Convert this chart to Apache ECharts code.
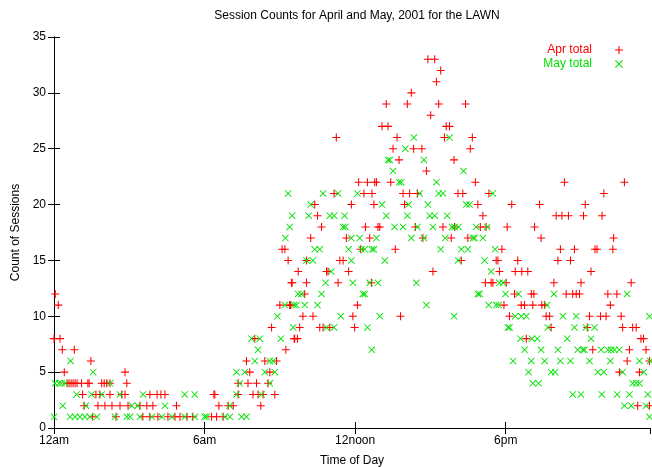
<!DOCTYPE html>
<html>
<head>
<meta charset="utf-8">
<script src="https://cdn.jsdelivr.net/npm/echarts@6/dist/echarts.min.js"></script>
<style>
  html, body { margin: 0; padding: 0; background: #fff; }
  #chart { width: 652px; height: 467px; }
</style>
</head>
<body>
<div id="chart"></div>
<script>
// x = hour of day, y = number of sessions
const aprPoints = [
  [0.05,12],[0.17,11],[0.0,8],[0.24,8],[0.33,7],[0.81,7],[1.47,6],[0.41,5],[2.83,5],[2.9,4],
  [0.52,4],[0.6,4],[0.68,4],[0.76,4],[0.84,4],[0.92,4],[1.1,4],[1.35,4],[1.4,4],[1.9,4],[2.0,4],[2.1,4],[2.23,4],
  [1.14,3],[1.67,3],[1.83,3],[2.23,3],[2.7,3],
  [1.2,2],[1.75,2],[2.03,2],[2.31,2],[2.63,2],[2.95,2],
  [1.54,1],[2.47,1],
  [2.83,3],[3.82,3],[4.11,3],[4.26,3],[4.42,3],[6.37,3],
  [3.42,2],[3.7,2],[3.94,2],[4.88,2],
  [3.54,1],[3.82,1],[4.14,1],[4.54,1],[4.82,1],[5.02,1],[5.3,1],[5.53,1],
  [6.28,1],[6.48,1],[6.74,1],
  [6.57,2],[6.94,2],[7.14,2],[8.24,2],
  [6.41,3],[7.34,3],[7.93,3],[8.13,3],[8.33,3],[8.8,3],
  [7.34,4],[7.73,4],[8.07,4],[8.53,4],
  [7.8,5],[8.6,5],[7.67,6],[8.4,6],[8.87,6],
  [9.24,7],[8.0,8],[9.57,8],[8.67,9],[9.0,11],[9.43,11],[9.49,13],[9.33,15],[9.09,16],
  [11.25,26],[12.14,22],[12.49,22],[12.78,22],[11.16,21],[12.35,21],[12.67,21],
  [10.39,20],[11.85,20],[12.75,20],[10.5,19],[10.66,18],[12.41,18],
  [10.23,17],[11.65,17],[12.58,17],[9.2,16],[12.22,16],
  [10.06,15],[11.39,15],[11.52,15],
  [9.73,14],[10.86,14],[10.92,14],[11.74,14],
  [9.46,13],[10.06,13],[11.32,13],[12.65,13],
  [9.99,12],[9.39,11],[12.09,11],
  [9.92,10],[10.32,10],[11.91,10],
  [9.79,9],[10.59,9],[10.72,9],[10.99,9],[11.98,9],
  [9.59,8],[9.7,8],
  [14.9,33],[15.17,33],[15.41,32],[15.24,31],[14.24,30],
  [13.24,29],[14.08,29],[15.33,29],[16.4,29],[15.01,28],
  [13.07,27],[13.31,27],[15.63,27],[15.76,27],
  [13.67,26],[15.56,26],[13.51,25],[14.33,25],[14.66,25],
  [13.75,24],[15.94,24],[14.84,23],[12.85,22],[13.42,22],
  [13.91,21],[14.17,21],[14.48,21],[13.97,20],
  [12.91,18],[12.98,18],[14.4,18],[15.5,18],
  [14.7,17],[15.83,17],[13.6,16],[15.1,14],[13.81,10],
  [16.67,26],[16.59,25],[16.79,22],[16.1,21],[16.29,21],[17.33,21],
  [16.89,20],[18.24,20],[17.09,19],
  [15.96,18],[16.99,18],[17.22,18],[18.06,18],[19.15,18],
  [16.49,17],[17.85,16],
  [16.23,15],[17.62,15],[17.69,15],[18.48,15],
  [17.75,14],[18.38,14],[18.64,14],[18.88,14],
  [17.19,13],[17.42,13],[17.49,13],[18.02,13],
  [18.35,12],[19.02,12],
  [17.93,11],[18.62,11],[18.75,11],[19.08,11],
  [18.15,10],[18.82,8],
  [20.34,22],[22.73,22],[21.91,21],[19.35,20],[21.17,20],
  [20.01,19],[20.24,19],[20.5,19],[21.1,19],[21.84,19],
  [19.41,17],[22.3,17],
  [20.18,16],[20.74,16],[21.56,16],[21.64,16],[22.27,16],
  [20.08,15],[20.58,15],[21.4,14],
  [19.92,13],[21.0,13],[23.0,13],
  [19.12,12],[20.41,12],[20.67,12],[20.81,12],[20.94,12],[22.07,12],[22.43,12],
  [19.44,11],[19.55,11],[22.17,11],
  [19.61,10],[19.75,10],[21.34,10],[21.78,10],[22.0,10],[22.6,10],
  [19.81,9],[21.25,9],[22.66,9],[23.06,9],[23.2,9],
  [23.39,8],[23.49,8],
  [21.47,7],[22.93,7],[23.59,7],
  [22.84,6],[23.73,6],[22.53,5],[23.33,5],[23.26,2],[23.73,2]
];

const mayPoints = [
  [0.04,4],[0.2,4],[0.3,4],[0.45,4],[2.23,4],[0.66,6],[1.56,5],
  [0.9,3],[1.5,3],[1.9,3],[2.63,3],[0.35,2],[1.27,2],
  [0.0,1],[0.64,1],[0.84,1],[1.03,1],[1.23,1],[1.43,1],[1.71,1],[2.43,1],[2.9,1],
  [3.55,3],[5.21,3],[5.61,3],[3.1,2],[3.34,2],[4.42,2],
  [3.03,1],[3.42,1],[3.9,1],[4.3,1],[4.7,1],[5.21,1],[5.61,1],[6.0,1],
  [6.08,1],[6.81,1],[7.01,1],[7.47,1],[7.67,1],[7.0,2],
  [7.27,3],[8.27,3],[7.4,4],[8.6,4],
  [7.27,5],[7.6,5],[8.4,5],[8.8,5],
  [8.0,6],[8.6,6],[8.73,6],[8.13,7],
  [7.87,8],[8.2,8],[9.04,8],[9.53,9],[8.9,10],[9.2,11],[9.57,11],[9.22,17],
  [9.33,21],[10.72,21],[11.32,21],[12.09,21],[10.23,20],
  [9.49,19],[10.15,19],[10.99,19],[11.16,19],[11.58,19],
  [9.39,18],[11.52,18],[11.61,18],
  [11.85,17],[12.18,17],
  [10.39,16],[10.59,16],[11.74,16],[12.25,16],[12.38,16],[12.67,16],
  [10.06,15],[10.32,15],[11.85,15],[11.05,14],
  [10.82,13],[11.91,13],[12.58,13],
  [9.73,12],[9.86,12],[10.66,12],[12.31,12],
  [9.66,11],[9.99,11],[10.5,11],[11.43,10],
  [10.86,9],[11.16,9],[12.49,9],
  [14.34,26],[15.76,26],[14.0,25],[13.31,24],[13.38,24],[14.74,24],[13.51,23],
  [13.75,22],[13.84,22],[15.24,22],[14.57,21],[15.33,21],[15.5,21],
  [13.07,20],[14.13,20],[14.9,20],
  [13.24,19],[14.08,19],[14.97,19],[15.17,19],[15.67,19],
  [13.57,18],[13.91,18],[14.48,18],[15.1,18],[15.86,18],
  [12.85,17],[14.24,17],[14.74,17],[15.59,17],
  [12.75,16],[15.41,16],[13.18,15],[12.91,13],[14.44,13],[12.38,12],[14.84,11],
  [12.98,10],[15.94,10],[12.66,7],
  [16.32,23],[17.49,21],[16.43,20],[16.56,20],
  [15.96,18],[16.12,18],[16.82,18],[17.26,18],
  [16.69,17],[16.76,17],[17.09,17],
  [16.23,16],[16.49,16],[17.58,16],[16.1,15],[17.16,15],[17.42,14],[17.75,13],[17.89,13],
  [16.89,12],[16.96,12],[17.99,12],[18.51,12],
  [17.32,11],[17.62,11],[17.72,11],
  [18.38,10],[18.62,10],[18.82,10],[18.09,9],[18.15,9],
  [18.59,8],[19.04,8],[18.75,7],[18.29,6],[19.02,6],[18.91,5],[19.08,4],
  [19.92,12],[22.84,12],[19.65,11],[20.28,10],[20.81,10],[23.73,10],
  [19.68,9],[20.74,9],[21.2,9],[21.54,9],
  [19.26,8],[20.45,8],[21.4,8],
  [19.41,7],[20.08,7],[20.87,7],[21.07,7],[21.14,7],[21.8,7],[22.07,7],[22.2,7],[22.33,7],[22.53,7],
  [19.55,6],[20.18,6],[20.58,6],[21.34,6],[22.17,6],[23.33,6],[23.75,6],
  [19.81,5],[19.97,5],[21.67,5],[21.91,5],[22.66,5],[23.5,5],
  [19.31,4],[23.06,4],[23.2,4],[23.33,4],
  [20.67,3],[21.0,3],[21.83,3],[22.44,3],[22.93,3],[23.66,3],
  [22.73,2],[23.0,2],[23.59,2],[23.73,1]
];

const hourTicks = [0, 6, 12, 18];
const hourLabels = ['12am', '6am', '12noon', '6pm'];

const FONT = '"Liberation Sans", Arial, Helvetica, sans-serif';
const RED = '#ff0000';
const GREEN = '#00e000';
const plusIcon = 'path://M0,4.35H10V5.65H0Z M4.35,0H5.65V10H4.35Z';
const crossIcon = 'path://M0,0.9L0.9,0L10,9.1L9.1,10Z M9.1,0L10,0.9L0.9,10L0,9.1Z';

const chart = echarts.init(document.getElementById('chart'));

const mirrorAxis = {
  axisLine: { show: true, lineStyle: { color: '#000', width: 1 } },
  axisTick: { show: true, inside: true, length: 6, lineStyle: { color: '#000' } },
  axisLabel: { show: false },
  splitLine: { show: false }
};

chart.setOption({
  animation: false,
  backgroundColor: '#fff',
  textStyle: { fontFamily: FONT },
  title: {
    text: 'Session Counts for April and May, 2001 for the LAWN',
    left: 352, top: 5, textAlign: 'center',
    textStyle: { fontSize: 12, fontWeight: 'normal', color: '#000', fontFamily: FONT }
  },
  legend: {
    orient: 'vertical',
    right: 24, top: 38,
    align: 'right',
    itemWidth: 44, itemHeight: 8, itemGap: 0,
    symbolKeepAspect: true,
    textStyle: { fontSize: 12, lineHeight: 14, fontFamily: FONT },
    data: [
      { name: 'Apr total', icon: plusIcon, textStyle: { color: RED } },
      { name: 'May total', icon: crossIcon, textStyle: { color: GREEN } }
    ]
  },
  grid: { left: 54, right: 2, top: 37, bottom: 39, outerBoundsMode: 'none' },
  xAxis: [
    {
      type: 'value', min: 0, max: 23.75, interval: 6,
      name: 'Time of Day', nameLocation: 'middle', nameGap: 27,
      nameTextStyle: { fontSize: 12, color: '#000', fontFamily: FONT },
      axisLine: { show: true, lineStyle: { color: '#000', width: 1 } },
      axisTick: { show: true, inside: true, length: 6, lineStyle: { color: '#000' } },
      axisLabel: {
        color: '#000', fontSize: 12, margin: 7, showMaxLabel: false,
        formatter: v => {
          const i = hourTicks.indexOf(v);
          return i >= 0 ? hourLabels[i] : '';
        }
      },
      splitLine: { show: false }
    },
    Object.assign({ type: 'value', min: 0, max: 23.75, interval: 6, position: 'top' }, mirrorAxis)
  ],
  yAxis: [
    {
      type: 'value', min: 0, max: 35, interval: 5,
      name: 'Count of Sessions', nameLocation: 'middle', nameGap: 31,
      nameTextStyle: { fontSize: 12, color: '#000', fontFamily: FONT },
      axisLine: { show: true, lineStyle: { color: '#000', width: 1 } },
      axisTick: { show: true, inside: true, length: 6, lineStyle: { color: '#000' } },
      axisLabel: { color: '#000', fontSize: 12, margin: 8 },
      splitLine: { show: false }
    },
    Object.assign({ type: 'value', min: 0, max: 35, interval: 5, position: 'right' }, mirrorAxis)
  ],
  series: [
    {
      name: 'Apr total', type: 'scatter', clip: false,
      symbol: plusIcon, symbolSize: 8,
      itemStyle: { color: RED, opacity: 1 },
      data: aprPoints
    },
    {
      name: 'May total', type: 'scatter', clip: false,
      symbol: crossIcon, symbolSize: 7,
      itemStyle: { color: GREEN, opacity: 1 },
      data: mayPoints
    }
  ]
});
</script>
</body>
</html>
